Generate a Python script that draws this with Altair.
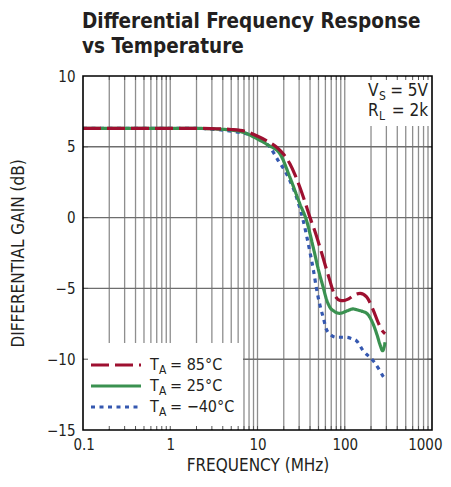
import altair as alt
import pandas as pd

# ---------------- data ----------------
freq_85 = [0.1, 1, 2, 3, 5, 7.5, 10, 13, 16.6, 20, 23.5, 27, 30.6, 35, 40, 46, 52, 60, 67.5,
           74, 80, 88, 96, 110, 130, 150, 178, 211, 241, 270, 290]
gain_85 = [6.3, 6.3, 6.3, 6.28, 6.22, 6.07, 5.75, 5.4, 4.97, 4.45, 3.8, 3.0, 2.14, 1.1, 0.0,
           -1.05, -2.1, -3.4, -4.45, -5.25, -5.65, -5.85, -5.87, -5.75, -5.45, -5.35, -5.6,
           -6.5, -7.4, -8.0, -8.2]

freq_25 = [0.1, 1, 2, 3, 5, 6.9, 10, 13, 18.1, 23.5, 30.6, 36.5, 43.5, 50, 56.6, 62, 67.5,
           75, 88, 105, 125, 136, 155, 178, 211, 235, 252, 272, 290]
gain_25 = [6.3, 6.3, 6.3, 6.27, 6.18, 6.02, 5.55, 5.15, 4.5, 2.85, 0.97, -0.21, -2.1, -3.7,
           -4.92, -5.8, -6.33, -6.6, -6.76, -6.6, -6.45, -6.5, -6.6, -6.75, -7.5, -8.3, -8.92,
           -9.4, -8.8]

freq_m40 = [0.1, 1, 2, 3, 5, 8.2, 10, 13.9, 17, 21.5, 28, 33.4, 39.8, 44, 47.4, 52, 56.6,
            61.7, 70, 80.5, 105, 120, 136, 162, 211, 252, 275, 290]
gain_m40 = [6.3, 6.3, 6.3, 6.25, 6.1, 5.85, 5.6, 4.97, 4.1, 3.09, 1.43, -0.21, -2.4, -3.8,
            -5.0, -6.2, -7.04, -7.9, -8.3, -8.45, -8.45, -8.55, -8.69, -9.39, -10.1, -10.8,
            -11.2, -11.35]

series_names = ["85", "25", "-40"]
series_colors = ["#9e1030", "#3a9150", "#3558b0"]
series_dashes = [[18, 6], [1, 0], [4, 4.5]]
legend_main = ["T", "T", "T"]
legend_sub = ["A", "A", "A"]
legend_rest = ["= 85°C", "= 25°C", "= \u221240°C"]

note_main = ["V", "R"]
note_sub = ["S", "L"]
note_rest = ["= 5V", "= 2k"]

x_ticks = [0.1, 1, 10, 100, 1000]
y_ticks = [-15, -10, -5, 0, 5, 10]
grid_freqs = [m * d for d in [0.1, 1, 10, 100] for m in range(2, 10)] + [1, 10, 100]
grid_gains = [5, 0, -5, -10]

title_lines = ["Differential Frequency Response", "vs Temperature"]
x_title = "FREQUENCY (MHz)"
y_title = "DIFFERENTIAL GAIN (dB)"

# ---------------- chart ----------------
FONT = "DejaVu Sans Condensed, Liberation Sans Narrow, sans-serif"
INK = "#231f20"
W, H = 349, 354

xsc = alt.Scale(type="log", domain=[0.1, 1000], nice=False)
ysc = alt.Scale(domain=[-15, 10], nice=False, zero=False)

one = pd.DataFrame({"a": [0]})

x_axis = alt.Axis(values=x_ticks, format="~g", labelFont=FONT, labelFontSize=15,
                  labelColor=INK, labelPadding=7, ticks=False, domain=False, grid=False,
                  labelFlush=True, labelFlushOffset=10, labelOverlap=False,
                  title=x_title, titleFont=FONT,
                  titleFontSize=17, titleFontWeight="normal", titleColor=INK,
                  titleY=27, titleBaseline="top")
y_axis = alt.Axis(values=y_ticks, labelExpr="replace(datum.label, '-', '\u2212')",
                  labelFont=FONT, labelFontSize=15, labelColor=INK, labelPadding=8,
                  ticks=False, domain=False, grid=False, labelOverlap=False,
                  labelFlush=False, title=y_title, titleFont=FONT, titleFontSize=17,
                  titleFontWeight="normal", titleColor=INK, titleX=-65, titleY=H / 2,
                  titleAngle=270, titleBaseline="middle", titleAlign="center")


def X(field):
    return alt.X(field, scale=xsc, axis=x_axis)


def Y(field):
    return alt.Y(field, scale=ysc, axis=y_axis)


gridv = alt.Chart(pd.DataFrame({"f": grid_freqs})).mark_rule(
    color="#8e8e8e", strokeWidth=1.3).encode(x=X("f:Q"))
gridh = alt.Chart(pd.DataFrame({"g": grid_gains})).mark_rule(
    color="#6e6e6e", strokeWidth=1.4).encode(y=Y("g:Q"))

curves = []
data_sets = [(freq_m40, gain_m40, 2), (freq_25, gain_25, 1), (freq_85, gain_85, 0)]
for fs, gs, i in data_sets:
    d = pd.DataFrame({"f": fs, "g": gs})
    curves.append(alt.Chart(d).mark_line(
        color=series_colors[i], strokeDash=series_dashes[i], strokeWidth=3.2,
        interpolate="monotone", strokeCap="butt").encode(x=X("f:Q"), y=Y("g:Q")))

# white boxes behind legend and note
legend_box = alt.Chart(one).mark_rect(fill="white").encode(
    x=alt.value(1), x2=alt.value(160), y=alt.value(267), y2=alt.value(H - 1))
note_box = alt.Chart(one).mark_rect(fill="white").encode(
    x=alt.value(264), x2=alt.value(W - 1), y=alt.value(1), y2=alt.value(50))

# inward tick marks
tdf = pd.DataFrame({"f": grid_freqs})
ticks_b = alt.Chart(tdf).mark_rule(color="#555", strokeWidth=1).encode(
    x=X("f:Q"), y=alt.value(H - 4), y2=alt.value(H))
ticks_t = alt.Chart(tdf).mark_rule(color="#555", strokeWidth=1).encode(
    x=X("f:Q"), y=alt.value(0), y2=alt.value(4))
gdf = pd.DataFrame({"g": grid_gains})
ticks_l = alt.Chart(gdf).mark_rule(color="#555", strokeWidth=1).encode(
    y=Y("g:Q"), x=alt.value(0), x2=alt.value(5))
ticks_r = alt.Chart(gdf).mark_rule(color="#555", strokeWidth=1).encode(
    y=Y("g:Q"), x=alt.value(W - 5), x2=alt.value(W))

# legend
legend_layers = []
leg_y = [289, 310, 331]
for row, i in enumerate([0, 1, 2]):
    yv = leg_y[row]
    legend_layers.append(alt.Chart(one).mark_rule(
        color=series_colors[i], strokeDash=series_dashes[i], strokeWidth=3.2,
        strokeCap="butt").encode(
        x=alt.value(8), x2=alt.value(58), y=alt.value(yv)))
    legend_layers.append(alt.Chart(one).mark_text(
        text=legend_main[i], font=FONT, fontSize=16, color=INK, align="left",
        baseline="middle").encode(x=alt.value(67), y=alt.value(yv)))
    legend_layers.append(alt.Chart(one).mark_text(
        text=legend_sub[i], font=FONT, fontSize=12, color=INK, align="left",
        baseline="middle").encode(x=alt.value(76), y=alt.value(yv + 5)))
    legend_layers.append(alt.Chart(one).mark_text(
        text=legend_rest[i], font=FONT, fontSize=16, color=INK, align="left",
        baseline="middle").encode(x=alt.value(87), y=alt.value(yv)))

note_layers = []
note_y = [15, 35]
for j in range(2):
    yv = note_y[j]
    note_layers.append(alt.Chart(one).mark_text(
        text=note_rest[j], font=FONT, fontSize=17, color=INK, align="right",
        baseline="middle").encode(x=alt.value(345), y=alt.value(yv)))
    note_layers.append(alt.Chart(one).mark_text(
        text=note_main[j], font=FONT, fontSize=17, color=INK, align="left",
        baseline="middle").encode(x=alt.value(285), y=alt.value(yv)))
    note_layers.append(alt.Chart(one).mark_text(
        text=note_sub[j], font=FONT, fontSize=12, color=INK, align="left",
        baseline="middle").encode(x=alt.value(296), y=alt.value(yv + 5)))

frame = alt.Chart(one).mark_rect(fill="white", fillOpacity=0, stroke="black",
                                 strokeWidth=1.6).encode(
    x=alt.value(0), x2=alt.value(W), y=alt.value(0), y2=alt.value(H))

chart = alt.layer(
    gridv, gridh, *curves, legend_box, note_box, ticks_b, ticks_t, ticks_l, ticks_r,
    *legend_layers, *note_layers, frame
).properties(
    width=W, height=H,
    autosize="none",
    padding={"left": 75, "top": 68, "right": 11, "bottom": 45},
    title=alt.TitleParams(title_lines, anchor="start", frame="group", font=FONT,
                          fontSize=20.5, fontWeight="bold", color=INK, lineHeight=25,
                          offset=12, dx=-1),
).configure_view(stroke=None)

chart.save("out.html", embed_options={"renderer": "svg", "actions": False})
